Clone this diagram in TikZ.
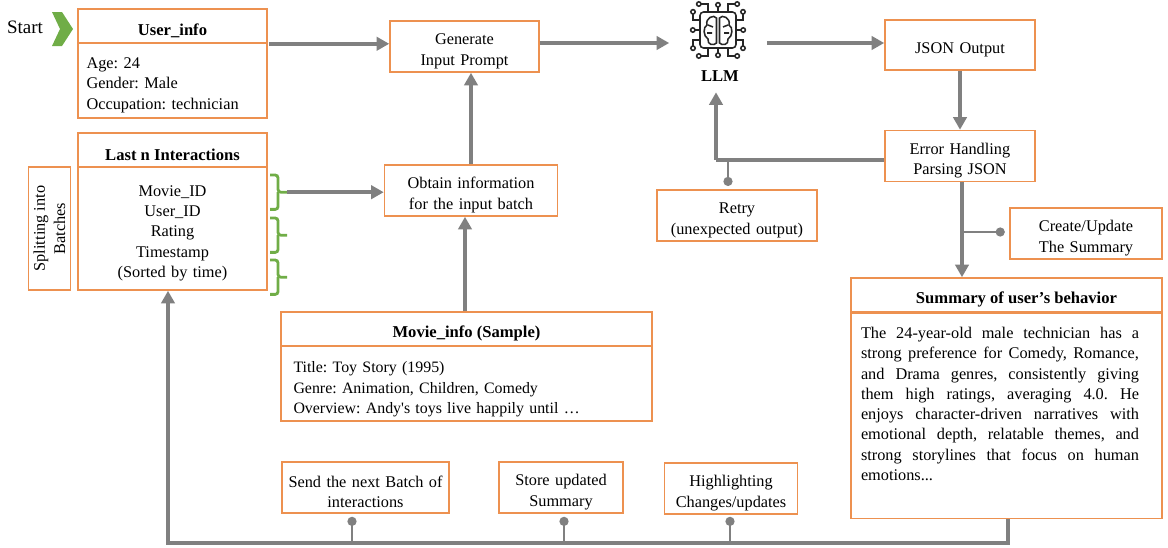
\documentclass[tikz,border=0pt]{standalone}
\usepackage{fontspec}
\setmainfont{Liberation Serif}
\usepackage{tikz}
\usetikzlibrary{arrows.meta}
\usetikzlibrary{positioning}
\usetikzlibrary{calc}
\definecolor{boxorange}{RGB}{237,145,80}
\definecolor{flowgray}{RGB}{128,128,128}
\definecolor{bracegreen}{RGB}{112,173,71}
\newcommand{\bodyfont}{\fontsize{11.6}{14.4}\selectfont\frenchspacing}
\newcommand{\sumline}[1]{\makebox[6.95cm][s]{#1}\\}
\tikzstyle{box}=[
        draw=boxorange,
        line width=1.1pt,
        rectangle,
        inner sep=0pt,
        align=center,
        font=\bodyfont,
        execute at begin node={\rule{0pt}{14.5pt}}
]
\tikzstyle{head}=[box,font=\fontsize{11.8}{14.4}\selectfont\bfseries,execute at begin node={\rule{0pt}{13.5pt}}]
\tikzstyle{lowbox}=[box,execute at begin node={\rule{0pt}{10.5pt}}]
\tikzstyle{flow}=[draw=flowgray,line width=3pt,-{Triangle[length=9pt,width=9.5pt]}]
\tikzstyle{flowline}=[draw=flowgray,line width=3pt]
\tikzstyle{stem}=[draw=flowgray,line width=1pt,{Circle[length=6.5pt,width=6.5pt]}-]
\tikzstyle{bracket}=[draw=bracegreen,line width=2pt,rounded corners=2pt]
\begin{document}
\begin{tikzpicture}
\useasboundingbox (0,0) rectangle (29.2,-13.675);
%boxes
\node[head,minimum width=4.725cm,minimum height=0.85cm] (userhead) at (4.3125,-0.65) {User\_info};
\node[box,minimum width=4.725cm,minimum height=1.875cm,align=left,text width=4.3cm] (userbody) at (4.3125,-2.0125) {Age: 24\\Gender: Male\\Occupation: technician};
\node[head,minimum width=4.725cm,minimum height=0.85cm] (lasthead) at (4.3125,-3.75) {Last n Interactions};
\node[box,text width=4.725cm,minimum height=3.075cm] (lastbody) at (4.3125,-5.7125) {Movie\_ID\\User\_ID\\Rating\\Timestamp\\(Sorted by time)};
\node[box,minimum width=3.075cm,minimum height=1.05cm,rotate=90,execute at begin node={}] (split) at (1.2375,-5.7125) {Splitting into\\Batches};
\node[box,text width=3.725cm,minimum height=1.275cm] (gen) at (11.6125,-1.1625) {Generate\\Input Prompt};
\node[box,text width=4.325cm,minimum height=1.275cm] (obtain) at (11.775,-4.7625) {Obtain information\\for the input batch};
\node[head,minimum width=9.275cm,minimum height=0.85cm] (moviehead) at (11.6625,-8.225) {Movie\_info (Sample)};
\node[box,minimum width=9.275cm,minimum height=1.875cm,align=left,text width=8.65cm,font=\fontsize{11.3}{14.4}\selectfont\frenchspacing,execute at begin node={\rule{0pt}{16pt}}] (moviebody) at (11.6625,-9.5875) {Title: Toy Story (1995)\\Genre: Animation, Children, Comedy\\Overview: Andy\textquotesingle s toys live happily until \dots};
\node[minimum width=2.425cm,minimum height=1.5cm,inner sep=0pt] (chip) at (17.95,-0.75) {};
\node[font=\fontsize{11.8}{14.4}\selectfont\bfseries,minimum height=0.8cm,inner sep=0pt] (llm) at (18,-1.9) {LLM};
\node[box,text width=3.75cm,minimum height=1.25cm] (json) at (24,-1.125) {JSON Output};
\node[box,text width=3.75cm,minimum height=1.275cm] (error) at (24,-3.9) {Error Handling\\Parsing JSON};
\node[box,text width=4cm,minimum height=1.275cm] (retry) at (18.425,-5.3875) {Retry\\(unexpected output)};
\node[box,text width=3.8cm,minimum height=1.275cm] (create) at (27.15,-5.8375) {Create/Update\\The Summary};
\node[head,minimum width=7.775cm,minimum height=0.85cm] (sumhead) at (25.1625,-7.375) {\hspace*{0.5cm}Summary of user’s behavior};
\node[box,minimum width=7.775cm,minimum height=5.125cm,anchor=north] (sumbody) at (sumhead.south) {};
\node[font=\bodyfont,text width=6.95cm,align=justify,anchor=north,inner sep=0pt] (sumtext) at (25,-8.175) {\sumline{The 24-year-old male technician has a}\sumline{strong preference for Comedy, Romance,}\sumline{and Drama genres, consistently giving}\sumline{them high ratings, averaging 4.0. He}\sumline{enjoys character-driven narratives with}\sumline{emotional depth, relatable themes, and}\sumline{strong storylines that focus on human}emotions...};
\node[lowbox,text width=4.175cm,minimum height=1.275cm] (send) at (9.1375,-12.1875) {Send the next Batch of\\interactions};
\node[lowbox,text width=3.1cm,minimum height=1.275cm] (store) at (14.025,-12.1875) {Store updated\\Summary};
\node[lowbox,text width=3.325cm,minimum height=1.275cm] (high) at (18.275,-12.2125) {Highlighting\\Changes/updates};
\node[font=\fontsize{13.5}{14.4}\selectfont,inner sep=0pt] (start) at (0.625,-0.675) {Start};
%chevron
\fill[bracegreen] (1.3,-0.3) -- (1.55,-0.3) -- (1.825,-0.725) -- (1.55,-1.15) -- (1.3,-1.15) -- (1.5,-0.725) -- cycle;
%chip
\begin{scope}[shift={(chip.center)},x=0.025cm,y=0.025cm,line width=1.1pt,black!85]
\draw[rounded corners=2.5pt] (-18,-18) rectangle (18,18);
\draw (-1.5,-13) .. controls (-4,-16) and (-11,-15) .. (-10,-9) .. controls (-15,-6) and (-15,3) .. (-11,5) .. controls (-13,12) and (-4,16) .. (-1.5,12) -- cycle;
\draw (1.5,-13) .. controls (4,-16) and (11,-15) .. (10,-9) .. controls (15,-6) and (15,3) .. (11,5) .. controls (13,12) and (4,16) .. (1.5,12) -- cycle;
\draw (-11,-3) -- (-6,-3) (-10,5) -- (-5,3) (11,-3) -- (6,-3) (10,5) -- (5,3);
\draw (0,18) -- (0,23) (0,-18) -- (0,-23) (18,0) -- (23,0) (-18,0) -- (-23,0);
\draw (0,25.2) circle (2.2) (0,-25.2) circle (2.2) (25.2,0) circle (2.2) (-25.2,0) circle (2.2);
\foreach \sx in {-1,1}{
  \foreach \sy in {-1,1}{
    \draw (\sx*10,\sy*18) -- (\sx*10,\sy*26) -- (\sx*17,\sy*26);
    \draw (\sx*19.2,\sy*26) circle (2.2);
    \draw (\sx*18,\sy*10) -- (\sx*25,\sy*10) -- (\sx*25,\sy*16);
    \draw (\sx*25,\sy*18.2) circle (2.2);
  }
}
\end{scope}
%brackets
\foreach \ytop/\yname in {4.375/bone,5.45/btwo,6.5/bthree}{
  \coordinate (\yname) at (7.175,-\ytop-0.43);
  \draw[bracket] (6.75,-\ytop) -- (6.95,-\ytop) -- (6.95,-\ytop-0.43) -- (7.175,-\ytop-0.43);
  \draw[bracket] (6.75,-\ytop-0.86) -- (6.95,-\ytop-0.86) -- (6.95,-\ytop-0.43);
}
%junctions
\coordinate (axis) at (0,-1.075);
\coordinate (jretry) at (18.2,-4);
\coordinate (dretry) at (18.2,-4.65);
\coordinate (jcreate) at (24.05,-5.8);
\coordinate (dcreate) at (25.12,-5.8);
\coordinate (cornerr) at (25.2,-13.575);
\coordinate (cornerl) at (4.2,-13.575);
\coordinate (dsend) at (8.8,-12.92);
\coordinate (dstore) at (14.1,-12.92);
\coordinate (dhigh) at (18.25,-12.92);
\coordinate (bend) at (17.9,-4);
\coordinate (upgen) at (11.775,-3);
\coordinate (upobtain) at (11.625,-7);
\coordinate (downsum) at (24.05,-6);
%arrows
\draw[flow] (userhead.south east) ++(0.03,0) -- (userhead.south east -| gen.west);
\draw[flow] (axis -| gen.east) -- (axis -| chip.west);
\draw[flow] (axis -| chip.east) -- (axis -| json.west);
\draw[flow] (bone) -- (bone -| obtain.west);
\draw[flow] (upgen |- obtain.north) -- (upgen |- gen.south);
\draw[flow] (upobtain |- moviehead.north) -- (upobtain |- obtain.south);
\draw[flow] (json.south) -- (error.north);
\draw[flowline] (error.west |- bend) -- (bend);
\draw[flow] (bend) -- (bend |- llm.south);
\draw[flow] (downsum |- error.south) -- (downsum |- sumhead.north);
\draw[flow] (sumbody.south -| cornerr) -- (cornerr) -- (cornerl) -- (lastbody.south -| cornerl);
%stems
\draw[stem] (dretry) -- (jretry);
\draw[stem] (dcreate) -- (jcreate);
\draw[stem] (dsend) -- (dsend |- cornerr);
\draw[stem] (dstore) -- (dstore |- cornerr);
\draw[stem] (dhigh) -- (dhigh |- cornerr);
\end{tikzpicture}
\end{document}
